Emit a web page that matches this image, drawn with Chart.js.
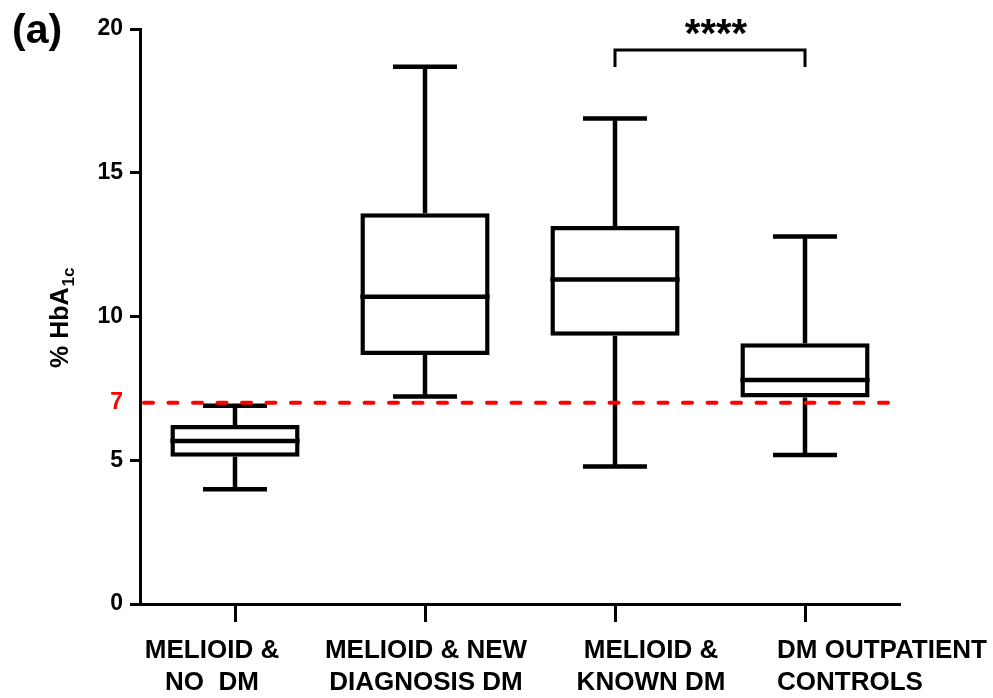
<!DOCTYPE html>
<html lang="en">
<head>
  <meta charset="UTF-8">
  <title>HbA1c box plot</title>
  <script src="https://cdn.jsdelivr.net/npm/chart.js"></script>
  <style>
    html, body { margin: 0; padding: 0; background: #fff; }
    #wrap { width: 993px; height: 698px; }
  </style>
</head>
<body>
  <div id="wrap"><canvas id="hbaChart"></canvas></div>

  <script>
    // data
    const groups = [
      ['MELIOID &', 'NO  DM'],
      ['MELIOID & NEW', 'DIAGNOSIS DM'],
      ['MELIOID &', 'KNOWN DM'],
      ['DM OUTPATIENT', 'CONTROLS']
    ];
    const whiskerMin = [3.99, 7.22, 4.78, 5.18];
    const q1 = [5.12, 8.66, 9.33, 7.18];
    const median = [5.67, 10.69, 11.29, 7.79];
    const q3 = [6.23, 13.59, 13.15, 9.07];
    const whiskerMax = [6.9, 18.69, 16.89, 12.78];
    const yTicks = [0, 5, 7, 10, 15, 20];
    const cutoff = 7;
    const sigPair = [2, 3];
    const sigText = '****';
    const sigTop = 19.27;
    const sigFoot = 18.68;

    const FONT = "'Liberation Sans', Arial, sans-serif";
    const LW = 4.5;

    // label placement relative to each tick (px), last one left aligned
    const labelShift = [
      { dx: -23, align: 'center' },
      { dx: 1, align: 'center' },
      { dx: 36, align: 'center' },
      { dx: -28, align: 'left' }
    ];

    const boxParts = {
      id: 'boxParts',
      afterDatasetsDraw(chart) {
        const { ctx, chartArea, scales: { x, y } } = chart;
        const meta = chart.getDatasetMeta(0);
        const capHalf = 32;
        ctx.save();
        ctx.strokeStyle = '#000';
        ctx.lineWidth = LW;
        ctx.lineCap = 'butt';
        groups.forEach((g, i) => {
          const cx = x.getPixelForValue(i);
          const half = meta.data[i].width / 2;
          const yMax = y.getPixelForValue(whiskerMax[i]);
          const yMin = y.getPixelForValue(whiskerMin[i]);
          const yMed = y.getPixelForValue(median[i]);
          ctx.beginPath();
          ctx.moveTo(cx, y.getPixelForValue(q3[i]));
          ctx.lineTo(cx, yMax);
          ctx.moveTo(cx - capHalf, yMax);
          ctx.lineTo(cx + capHalf, yMax);
          ctx.moveTo(cx, y.getPixelForValue(q1[i]));
          ctx.lineTo(cx, yMin);
          ctx.moveTo(cx - capHalf, yMin);
          ctx.lineTo(cx + capHalf, yMin);
          ctx.moveTo(cx - half, yMed);
          ctx.lineTo(cx + half, yMed);
          ctx.stroke();
        });

        // significance bracket
        const xa = x.getPixelForValue(sigPair[0]);
        const xb = x.getPixelForValue(sigPair[1]);
        const yt = y.getPixelForValue(sigTop);
        const yf = y.getPixelForValue(sigFoot);
        ctx.lineWidth = 3;
        ctx.beginPath();
        ctx.moveTo(xa, yf);
        ctx.lineTo(xa, yt);
        ctx.lineTo(xb, yt);
        ctx.lineTo(xb, yf);
        ctx.stroke();
        ctx.fillStyle = '#000';
        ctx.font = 'bold 40px ' + FONT;
        ctx.textAlign = 'center';
        ctx.textBaseline = 'alphabetic';
        ctx.fillText(sigText, (xa + xb) / 2 + 6, yt - 3);

        // red dashed cut-off
        const yc = y.getPixelForValue(cutoff);
        ctx.strokeStyle = '#ff0000';
        ctx.lineWidth = 4;
        ctx.lineCap = 'round';
        ctx.setLineDash([9, 15.5]);
        ctx.beginPath();
        ctx.moveTo(chartArea.left + 4, yc);
        ctx.lineTo(chartArea.right, yc);
        ctx.stroke();
        ctx.setLineDash([]);

        // category labels
        ctx.fillStyle = '#000';
        ctx.font = 'bold 26px ' + FONT;
        groups.forEach((lines, i) => {
          const s = labelShift[i];
          const px = x.getPixelForValue(i) + s.dx;
          ctx.textAlign = s.align;
          lines.forEach((t, k) => ctx.fillText(t, px, 658 + k * 32));
        });

        // panel letter
        ctx.textAlign = 'left';
        ctx.font = 'bold 41px ' + FONT;
        ctx.fillText('(a)', 12, 43);

        // y title with subscript
        ctx.translate(68, 368);
        ctx.rotate(-Math.PI / 2);
        ctx.font = 'bold 25px ' + FONT;
        const main = '% HbA';
        ctx.fillText(main, 0, 0);
        const w = ctx.measureText(main).width;
        ctx.font = 'bold 17px ' + FONT;
        ctx.fillText('1c', w + 1, 6);
        ctx.restore();
      }
    };

    const ctxEl = document.getElementById('hbaChart').getContext('2d');

    new Chart(ctxEl, {
      type: 'bar',
      data: {
        labels: groups,
        datasets: [{
          data: q1.map((v, i) => [v, q3[i]]),
          backgroundColor: '#fff',
          borderColor: '#000',
          borderWidth: LW,
          borderSkipped: false,
          barPercentage: 0.68,
          categoryPercentage: 1
        }]
      },
      options: {
        responsive: true,
        maintainAspectRatio: false,
        animation: false,
        layout: { padding: { top: 29, right: 93, left: 0, bottom: 0 } },
        plugins: {
          legend: { display: false },
          tooltip: { enabled: false }
        },
        scales: {
          x: {
            offset: true,
            afterFit: (s) => { s.height = 94; },
            border: { display: true, color: '#000', width: 3 },
            grid: {
              offset: false,
              drawOnChartArea: false,
              drawTicks: true,
              tickLength: 18,
              tickWidth: 3,
              tickColor: '#000'
            },
            ticks: { display: false }
          },
          y: {
            min: 0,
            max: 20,
            afterFit: (s) => { s.width = 140; },
            afterBuildTicks: (axis) => { axis.ticks = yTicks.map(v => ({ value: v })); },
            border: { display: true, color: '#000', width: 3 },
            grid: {
              drawOnChartArea: false,
              drawTicks: true,
              tickLength: 10,
              tickWidth: 3,
              tickColor: (c) => c.tick && c.tick.value === cutoff ? 'rgba(0,0,0,0)' : '#000'
            },
            ticks: {
              padding: 7,
              color: (c) => c.tick && c.tick.value === cutoff ? '#ff0000' : '#000',
              font: { family: FONT, size: 23, weight: 'bold' }
            }
          }
        }
      },
      plugins: [boxParts]
    });
  </script>
</body>
</html>
